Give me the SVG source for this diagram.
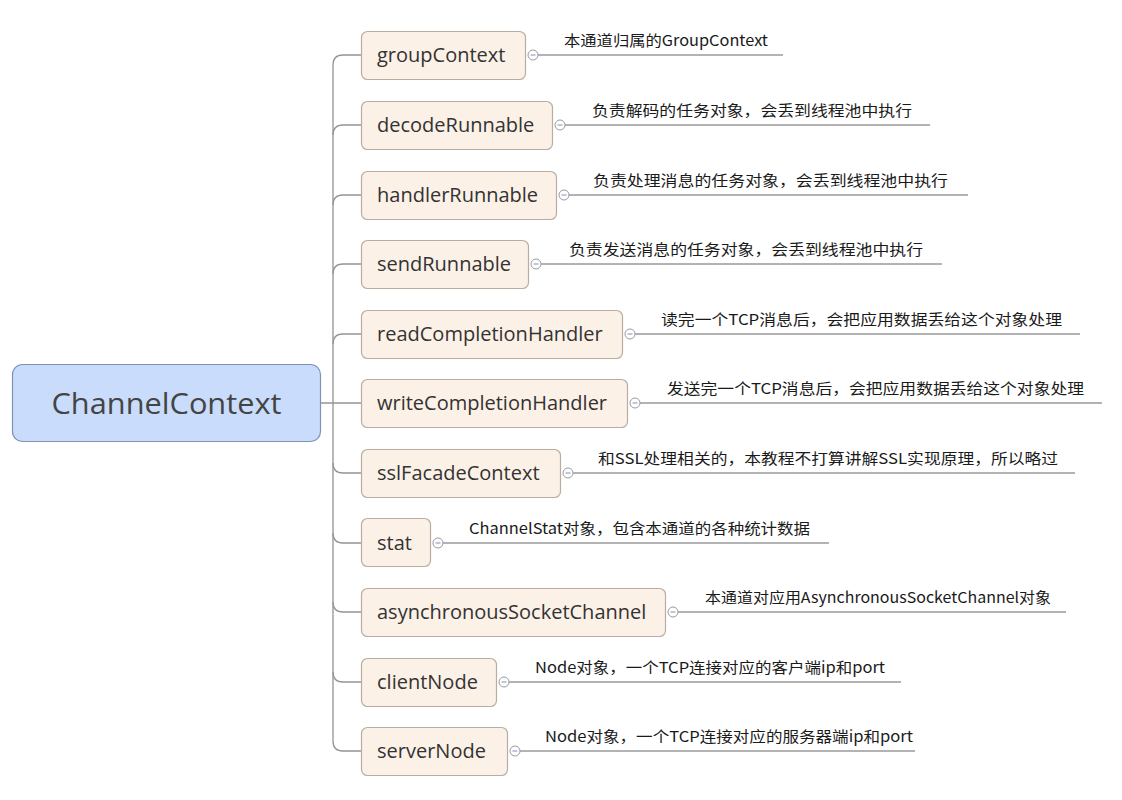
<svg xmlns="http://www.w3.org/2000/svg" width="1122" height="800" viewBox="0 0 1122 800">
<style>
.conn{fill:none;stroke:#949494;stroke-width:1.3}
.box{fill:#fcf1e7;stroke:#b9ada2;stroke-width:1.2}
.root{fill:#c9dcfb;stroke:#8191b3;stroke-width:1.2}
.nt{font-family:"Open Sans","Noto Sans",sans-serif;font-size:20px;fill:#333}
.rt{font-family:"Open Sans","Noto Sans",sans-serif;font-size:30px;fill:#444}
.lb{font-family:"Noto Sans CJK SC","Noto Sans",sans-serif;font-size:15px;fill:#1a1a1a}
.ln{stroke:#9a9a9a;stroke-width:1.3}
.cc{fill:#fff;stroke:#9a9a9a;stroke-width:1}
.mn{stroke:#7f8fc0;stroke-width:1}
</style>
<rect width="1122" height="800" fill="#fff"/>
<g id="connectors">
<path class="conn" d="M321,403 H361"/>
<path class="conn" d="M333,65 V741"/>
<path class="conn" d="M361,55 H343 Q333,55 333,65"/>
<path class="conn" d="M361,125 H343 Q333,125 333,135"/>
<path class="conn" d="M361,195 H343 Q333,195 333,205"/>
<path class="conn" d="M361,264 H343 Q333,264 333,274"/>
<path class="conn" d="M361,334 H343 Q333,334 333,344"/>
<path class="conn" d="M333,463 Q333,473 343,473 H361"/>
<path class="conn" d="M333,533 Q333,543 343,543 H361"/>
<path class="conn" d="M333,602 Q333,612 343,612 H361"/>
<path class="conn" d="M333,672 Q333,682 343,682 H361"/>
<path class="conn" d="M333,741 Q333,751 343,751 H361"/>
</g>
<g id="root">
<rect class="root" x="12.5" y="364.5" width="308" height="77" rx="10"/>
<text class="rt" x="166.5" y="414" text-anchor="middle" textLength="230" lengthAdjust="spacingAndGlyphs">ChannelContext</text>
</g>
<g id="groupContext">
<rect class="box" x="361.5" y="31.5" width="164" height="48" rx="6"/>
<text class="nt" x="377" y="62">groupContext</text>
<line class="ln" x1="538" y1="55" x2="783" y2="55"/>
<circle class="cc" cx="533" cy="55" r="5"/><line class="mn" x1="530.5" y1="55" x2="535.5" y2="55"/>
<text class="lb" x="564" y="46" textLength="204" lengthAdjust="spacingAndGlyphs">本通道归属的GroupContext</text>
</g>
<g id="decodeRunnable">
<rect class="box" x="361.5" y="101.5" width="191" height="48" rx="6"/>
<text class="nt" x="377" y="132">decodeRunnable</text>
<line class="ln" x1="565" y1="125" x2="930" y2="125"/>
<circle class="cc" cx="560" cy="125" r="5"/><line class="mn" x1="557.5" y1="125" x2="562.5" y2="125"/>
<text class="lb" x="592" y="116" textLength="320" lengthAdjust="spacingAndGlyphs">负责解码的任务对象，会丢到线程池中执行</text>
</g>
<g id="handlerRunnable">
<rect class="box" x="361.5" y="171.5" width="195" height="48" rx="6"/>
<text class="nt" x="377" y="202">handlerRunnable</text>
<line class="ln" x1="569" y1="195" x2="968" y2="195"/>
<circle class="cc" cx="564" cy="195" r="5"/><line class="mn" x1="561.5" y1="195" x2="566.5" y2="195"/>
<text class="lb" x="593" y="186" textLength="355" lengthAdjust="spacingAndGlyphs">负责处理消息的任务对象，会丢到线程池中执行</text>
</g>
<g id="sendRunnable">
<rect class="box" x="361.5" y="240.5" width="167" height="48" rx="6"/>
<text class="nt" x="377" y="271">sendRunnable</text>
<line class="ln" x1="541" y1="264" x2="942" y2="264"/>
<circle class="cc" cx="536" cy="264" r="5"/><line class="mn" x1="533.5" y1="264" x2="538.5" y2="264"/>
<text class="lb" x="569" y="255" textLength="354" lengthAdjust="spacingAndGlyphs">负责发送消息的任务对象，会丢到线程池中执行</text>
</g>
<g id="readCompletionHandler">
<rect class="box" x="361.5" y="310.5" width="261" height="48" rx="6"/>
<text class="nt" x="377" y="341">readCompletionHandler</text>
<line class="ln" x1="635" y1="334" x2="1080" y2="334"/>
<circle class="cc" cx="630" cy="334" r="5"/><line class="mn" x1="627.5" y1="334" x2="632.5" y2="334"/>
<text class="lb" x="661" y="325" textLength="401" lengthAdjust="spacingAndGlyphs">读完一个TCP消息后，会把应用数据丢给这个对象处理</text>
</g>
<g id="writeCompletionHandler">
<rect class="box" x="361.5" y="379.5" width="266" height="48" rx="6"/>
<text class="nt" x="377" y="410">writeCompletionHandler</text>
<line class="ln" x1="640" y1="403" x2="1102" y2="403"/>
<circle class="cc" cx="635" cy="403" r="5"/><line class="mn" x1="632.5" y1="403" x2="637.5" y2="403"/>
<text class="lb" x="667" y="394" textLength="417" lengthAdjust="spacingAndGlyphs">发送完一个TCP消息后，会把应用数据丢给这个对象处理</text>
</g>
<g id="sslFacadeContext">
<rect class="box" x="361.5" y="449.5" width="199" height="48" rx="6"/>
<text class="nt" x="377" y="480">sslFacadeContext</text>
<line class="ln" x1="573" y1="473" x2="1075" y2="473"/>
<circle class="cc" cx="568" cy="473" r="5"/><line class="mn" x1="565.5" y1="473" x2="570.5" y2="473"/>
<text class="lb" x="598" y="464" textLength="460" lengthAdjust="spacingAndGlyphs">和SSL处理相关的，本教程不打算讲解SSL实现原理，所以略过</text>
</g>
<g id="stat">
<rect class="box" x="361.5" y="518.5" width="69" height="48" rx="6"/>
<text class="nt" x="377" y="550">stat</text>
<line class="ln" x1="443" y1="543" x2="829" y2="543"/>
<circle class="cc" cx="438" cy="543" r="5"/><line class="mn" x1="435.5" y1="543" x2="440.5" y2="543"/>
<text class="lb" x="469" y="534" textLength="341" lengthAdjust="spacingAndGlyphs">ChannelStat对象，包含本通道的各种统计数据</text>
</g>
<g id="asynchronousSocketChannel">
<rect class="box" x="361.5" y="588.5" width="304" height="48" rx="6"/>
<text class="nt" x="377" y="619">asynchronousSocketChannel</text>
<line class="ln" x1="678" y1="612" x2="1066" y2="612"/>
<circle class="cc" cx="673" cy="612" r="5"/><line class="mn" x1="670.5" y1="612" x2="675.5" y2="612"/>
<text class="lb" x="705" y="603" textLength="346" lengthAdjust="spacingAndGlyphs">本通道对应用AsynchronousSocketChannel对象</text>
</g>
<g id="clientNode">
<rect class="box" x="361.5" y="658.5" width="135" height="48" rx="6"/>
<text class="nt" x="377" y="689">clientNode</text>
<line class="ln" x1="509" y1="682" x2="901" y2="682"/>
<circle class="cc" cx="504" cy="682" r="5"/><line class="mn" x1="501.5" y1="682" x2="506.5" y2="682"/>
<text class="lb" x="535" y="673" textLength="350" lengthAdjust="spacingAndGlyphs">Node对象，一个TCP连接对应的客户端ip和port</text>
</g>
<g id="serverNode">
<rect class="box" x="361.5" y="727.5" width="146" height="48" rx="6"/>
<text class="nt" x="377" y="758">serverNode</text>
<line class="ln" x1="520" y1="751" x2="915" y2="751"/>
<circle class="cc" cx="515" cy="751" r="5"/><line class="mn" x1="512.5" y1="751" x2="517.5" y2="751"/>
<text class="lb" x="545" y="742" textLength="368" lengthAdjust="spacingAndGlyphs">Node对象，一个TCP连接对应的服务器端ip和port</text>
</g>
</svg>
